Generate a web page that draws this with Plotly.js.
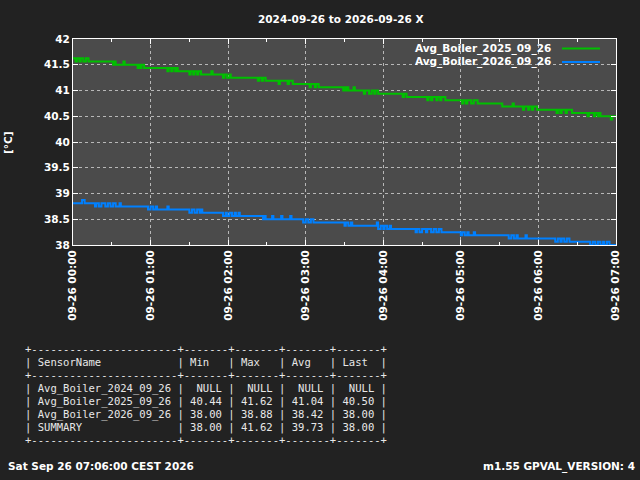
<!DOCTYPE html>
<html>
<head>
<meta charset="utf-8">
<script src="https://cdn.plot.ly/plotly-3.0.1.min.js"></script>
<style>
  html, body { margin: 0; padding: 0; background: #222222; }
  #chart { width: 640px; height: 480px; }
</style>
</head>
<body>
<div id="chart"></div>
<script>
// step changes: minute offset from 2026-09-26 00:00 and the new value
var greenMinutes = [0, 2, 3, 5, 6, 8, 10, 12, 31, 32, 33, 39, 40, 50, 51, 52, 53, 55,
  73, 74, 76, 77, 79, 80, 81, 90, 91, 93, 94, 96, 97, 99, 107, 108, 116, 117, 119, 121, 122,
  143, 144, 146, 147, 149, 159, 160, 166, 167, 170, 183, 184, 187, 188, 190,
  209, 210, 211, 212, 213, 217, 218, 225, 226, 229, 231, 233, 234, 236, 255, 256, 258,
  274, 275, 277, 278, 281, 282, 284, 285, 288, 301, 302, 304, 305, 308, 310, 313,
  332, 340, 341, 348, 349, 352, 353, 355, 356, 359, 374, 375, 377, 378, 381, 382, 386,
  398, 399, 403, 404, 406, 407, 408, 416, 417, 420];
var greenValues = [41.625, 41.5625, 41.625, 41.5625, 41.625, 41.5625, 41.625, 41.5625, 41.5, 41.5625, 41.5, 41.5625, 41.5, 41.4375, 41.5, 41.4375, 41.5, 41.4375,
  41.375, 41.4375, 41.375, 41.4375, 41.375, 41.4375, 41.375, 41.3125, 41.375, 41.3125, 41.375, 41.3125, 41.375, 41.3125, 41.375, 41.3125, 41.25, 41.3125, 41.25, 41.3125, 41.25,
  41.1875, 41.25, 41.1875, 41.25, 41.1875, 41.125, 41.1875, 41.125, 41.1875, 41.125, 41.0625, 41.125, 41.0625, 41.125, 41.0625,
  41.0, 41.0625, 41.0, 41.0625, 41.0, 41.0625, 41.0, 40.9375, 41.0, 40.9375, 41.0, 40.9375, 41.0, 40.9375, 40.875, 40.9375, 40.875,
  40.8125, 40.875, 40.8125, 40.875, 40.8125, 40.875, 40.8125, 40.875, 40.8125, 40.75, 40.8125, 40.75, 40.8125, 40.75, 40.8125, 40.75,
  40.6875, 40.75, 40.6875, 40.625, 40.6875, 40.625, 40.6875, 40.625, 40.6875, 40.625, 40.5625, 40.625, 40.5625, 40.625, 40.5625, 40.625, 40.5625,
  40.5, 40.5625, 40.5, 40.5625, 40.5, 40.5625, 40.5, 40.4375, 40.5, 40.5];

var blueMinutes = [0, 7, 9, 17, 18, 20, 22, 25, 27, 29, 31, 33, 36, 37, 58, 60, 62, 64, 65, 73, 74,
  90, 92, 94, 96, 98, 99, 100, 116, 118, 119, 121, 123, 125, 126, 128, 129,
  147, 148, 149, 154, 155, 161, 162, 168, 169, 178, 180, 182, 184, 186,
  210, 211, 213, 215, 216, 221, 235, 236, 238, 240, 241, 243, 245, 246,
  265, 266, 268, 270, 273, 274, 277, 279, 281, 283, 285, 300, 301, 303, 305, 306, 310, 311,
  337, 339, 341, 343, 344, 350, 351, 373, 375, 377, 378, 380, 382, 384,
  400, 402, 404, 406, 408, 410, 411, 413, 415, 420];
var blueValues = [38.8125, 38.875, 38.8125, 38.75, 38.8125, 38.75, 38.8125, 38.75, 38.8125, 38.75, 38.8125, 38.75, 38.8125, 38.75, 38.6875, 38.75, 38.6875, 38.75, 38.6875, 38.75, 38.6875,
  38.625, 38.6875, 38.625, 38.6875, 38.625, 38.6875, 38.625, 38.5625, 38.625, 38.5625, 38.625, 38.5625, 38.625, 38.5625, 38.625, 38.5625,
  38.5, 38.5625, 38.5, 38.5625, 38.5, 38.5625, 38.5, 38.5625, 38.5, 38.4375, 38.5, 38.4375, 38.5, 38.4375,
  38.375, 38.4375, 38.375, 38.4375, 38.375, 38.375, 38.4375, 38.3125, 38.375, 38.3125, 38.375, 38.3125, 38.375, 38.3125,
  38.25, 38.3125, 38.25, 38.3125, 38.25, 38.3125, 38.25, 38.3125, 38.25, 38.3125, 38.25, 38.1875, 38.25, 38.1875, 38.25, 38.1875, 38.25, 38.1875,
  38.125, 38.1875, 38.125, 38.1875, 38.125, 38.1875, 38.125, 38.0625, 38.125, 38.0625, 38.125, 38.0625, 38.125, 38.0625,
  38.0, 38.0625, 38.0, 38.0625, 38.0, 38.0625, 38.0, 38.0625, 38.0, 38.0];

var seriesNames = ['Avg_Boiler_2025_09_26', 'Avg_Boiler_2026_09_26'];
var seriesColors = ['#00c000', '#0080ff'];

// statistics table
var tableSensors = ['Avg_Boiler_2024_09_26', 'Avg_Boiler_2025_09_26', 'Avg_Boiler_2026_09_26', 'SUMMARY'];
var tableMin = ['NULL', '40.44', '38.00', '38.00'];
var tableMax = ['NULL', '41.62', '38.88', '41.62'];
var tableAvg = ['NULL', '41.04', '38.42', '39.73'];
var tableLast = ['NULL', '40.50', '38.00', '38.00'];

var chartTitle = '2024-09-26 to 2026-09-26 X';
var footerLeft = 'Sat Sep 26 07:06:00 CEST 2026';
var footerRight = 'm1.55 GPVAL_VERSION: 4';

function pad(n) { return (n < 10 ? '0' : '') + n; }
function toTime(m) { return '2026-09-26 ' + pad(Math.floor(m / 60)) + ':' + pad(m % 60); }

// pixel -> paper helpers (plot area 73..616 x 39..245)
function px(x) { return (x - 73) / 543; }
function py(y) { return (245 - y) / 206; }

var data = [
  {
    x: greenMinutes.map(toTime), y: greenValues, mode: 'lines', line: { shape: 'hv', color: seriesColors[0], width: 2 },
    name: seriesNames[0], showlegend: false
  },
  {
    x: blueMinutes.map(toTime), y: blueValues, mode: 'lines', line: { shape: 'hv', color: seriesColors[1], width: 2 },
    name: seriesNames[1], showlegend: false
  }
];

var boldFont = { family: 'DejaVu Sans', size: 10.5, color: '#ffffff', weight: 'bold' };
var monoFont = { family: 'DejaVu Sans Mono', size: 10.55, color: '#e8e8e8' };

function padRight(s, n) { while (s.length < n) s += ' '; return s; }
function padLeft(s, n) { while (s.length < n) s = ' ' + s; return s; }

var sep = '+' + '-'.repeat(23) + '+' + '-------+-------+-------+-------+';
var tableLines = [
  { t: sep, y: 349 },
  { t: '| ' + padRight('SensorName', 21) + ' | Min   | Max   | Avg   | Last  |', y: 362 },
  { t: sep, y: 374.5 }
];
var rowY = [388.5, 401.5, 414.5, 427.5];
tableSensors.forEach(function (s, i) {
  tableLines.push({
    t: '| ' + padRight(s, 21) + ' | ' + padLeft(tableMin[i], 5) + ' | ' + padLeft(tableMax[i], 5) +
      ' | ' + padLeft(tableAvg[i], 5) + ' | ' + padLeft(tableLast[i], 5) + ' |',
    y: rowY[i]
  });
});
tableLines.push({ t: sep, y: 440 });

var annotations = tableLines.map(function (l) {
  return {
    xref: 'paper', yref: 'paper', x: px(23), y: py(l.y), xanchor: 'left', yanchor: 'middle',
    text: l.t.replace(/ /g, '&nbsp;'), showarrow: false, font: monoFont
  };
});

annotations.push(
  { xref: 'paper', yref: 'paper', x: px(341), y: py(19), xanchor: 'center', yanchor: 'middle', text: chartTitle, showarrow: false, font: boldFont },
  { xref: 'paper', yref: 'paper', x: px(8), y: py(143), xanchor: 'center', yanchor: 'middle', text: '[°C]', textangle: -90, showarrow: false, font: boldFont },
  { xref: 'paper', yref: 'paper', x: px(6), y: py(466), xanchor: 'left', yanchor: 'middle', text: footerLeft, showarrow: false, font: boldFont },
  { xref: 'paper', yref: 'paper', x: px(637), y: py(466), xanchor: 'right', yanchor: 'middle', text: footerRight, showarrow: false, font: boldFont },
  { xref: 'paper', yref: 'paper', x: px(553), y: py(48), xanchor: 'right', yanchor: 'middle', text: seriesNames[0], showarrow: false, font: boldFont },
  { xref: 'paper', yref: 'paper', x: px(553), y: py(62), xanchor: 'right', yanchor: 'middle', text: seriesNames[1], showarrow: false, font: boldFont }
);

var shapes = [
  { type: 'line', xref: 'paper', yref: 'paper', x0: px(562), x1: px(600), y0: py(48.5), y1: py(48.5), line: { color: seriesColors[0], width: 2 } },
  { type: 'line', xref: 'paper', yref: 'paper', x0: px(562), x1: px(600), y0: py(62), y1: py(62), line: { color: seriesColors[1], width: 2 } }
];

var layout = {
  width: 640, height: 480,
  margin: { l: 73, r: 24, t: 39, b: 235 },
  paper_bgcolor: '#222222',
  plot_bgcolor: '#4b4b4b',
  showlegend: false,
  xaxis: {
    type: 'date',
    range: ['2026-09-26 00:00', '2026-09-26 07:00'],
    dtick: 3600000,
    tick0: '2026-09-26 00:00',
    tickformat: '%m-%d %H:%M',
    tickangle: -90,
    tickfont: boldFont,
    ticks: 'inside', ticklen: 5, tickcolor: '#ffffff',
    showline: true, linecolor: '#ffffff', linewidth: 1, mirror: 'ticks',
    showgrid: true, gridcolor: '#b8b8b8', griddash: 'dot', gridwidth: 1,
    minor: { dtick: 1800000, ticks: 'inside', ticklen: 3, tickcolor: '#ffffff', showgrid: false },
    zeroline: false
  },
  yaxis: {
    range: [38, 42],
    dtick: 0.5,
    tickfont: boldFont,
    ticks: 'inside', ticklen: 5, tickcolor: '#ffffff',
    showline: true, linecolor: '#ffffff', linewidth: 1, mirror: 'ticks',
    showgrid: true, gridcolor: '#b8b8b8', griddash: 'dot', gridwidth: 1,
    zeroline: false
  },
  annotations: annotations,
  shapes: shapes
};

Plotly.newPlot('chart', data, layout, { staticPlot: true });
</script>
</body>
</html>
